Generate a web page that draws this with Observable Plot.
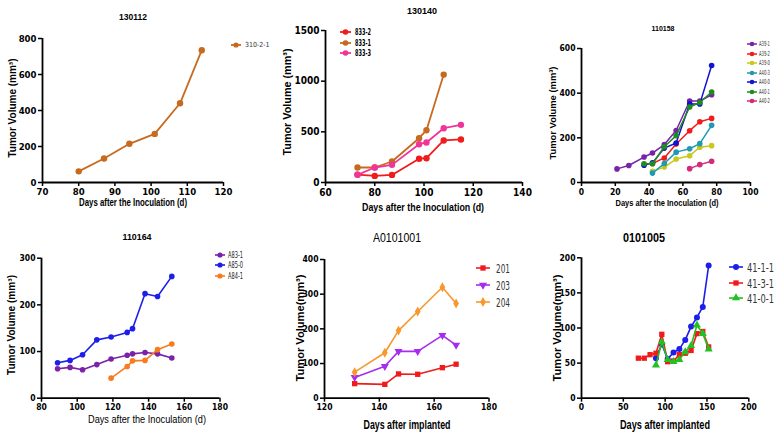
<!DOCTYPE html>
<html><head><meta charset="utf-8">
<script src="https://cdn.jsdelivr.net/npm/d3@7"></script>
<script src="https://cdn.jsdelivr.net/npm/@observablehq/plot@0.6"></script>
<style>
body{margin:0;background:#fff;}
#root{position:relative;width:783px;height:433px;overflow:hidden;background:#fff;}
.t{position:absolute;white-space:nowrap;line-height:1;color:#000;}
svg.sw{position:absolute;overflow:visible;}
</style></head><body><div id="root"></div>
<script>
// ---------- DATA ----------
// Panel 130112
const days130112 = [80, 87, 94, 101, 108, 114];
const vol310_2_1 = [62, 133, 215, 270, 440, 735];
// Panel 130140
const days130140 = [73, 80, 87, 98, 101, 108, 115];
const vol833_2 = [78, 65, 75, 235, 240, 415, 425];
const vol833_1 = [148, 148, 207, 437, 516, 1065];
const vol833_3 = [76, 148, 174, 378, 395, 536, 569];
// Panel 110158
const daysA39_1 = [21, 28, 37, 42, 49, 56, 64, 70, 77];
const volA39_1 = [61, 76, 114, 132, 170, 233, 365, 365, 393];
const daysA39_2 = [42, 49, 56, 64, 70, 77];
const volA39_2 = [85, 110, 172, 232, 272, 287];
const volA39_0 = [50, 69, 105, 120, 158, 165];
const volA40_3 = [42, 85, 136, 151, 174, 256];
const daysA40_0 = [37, 42, 49, 56, 64, 70, 77];
const volA40_0 = [77, 88, 154, 177, 352, 352, 524];
const volA40_1 = [84, 84, 160, 210, 338, 358, 405];
const daysA40_2 = [64, 70, 77];
const volA40_2 = [62, 80, 95];
// Panel 110164
const days110164 = [89, 96, 103, 111, 119, 128, 131, 138, 145, 153];
const volA83_1 = [63, 66, 61, 72, 84, 92, 95, 98, 95, 86];
const volA85_0 = [76, 81, 93, 125, 131, 141, 149, 224, 218, 261];
const daysA84_1 = [119, 128, 131, 138, 145, 153];
const volA84_1 = [43, 68, 80, 81, 104, 116];
// Panel A0101001
const daysA0101001 = [131, 142, 147, 154, 163, 168];
const vol201 = [42, 40, 70, 69, 88, 98];
const vol203 = [60, 92, 135, 135, 181, 153];
const vol204 = [75, 131, 195, 250, 320, 273];
// Panel 0101005
const days41_3_1 = [68, 75, 82, 89, 96, 103, 110, 117, 124, 131, 138, 145, 152];
const vol41_3_1 = [57, 57, 62, 64, 91, 52, 53, 62, 64, 68, 92, 95, 73];
const days41_x = [89, 96, 103, 110, 117, 124, 131, 138, 145, 152];
const vol41_1_1 = [57, 77, 56, 65, 70, 83, 102, 115, 130, 189];
const vol41_0_1 = [47, 80, 55, 52, 55, 66, 75, 104, 92, 70];

// tick values
const ticks1x = [70, 80, 90, 100, 110, 120], ticks1y = [0, 200, 400, 600, 800];
const ticks2x = [60, 80, 100, 120, 140], ticks2y = [0, 500, 1000, 1500];
const ticks3x = [0, 20, 40, 60, 80, 100], ticks3y = [0, 200, 400, 600];
const ticks4x = [80, 100, 120, 140, 160, 180], ticks4y = [0, 100, 200, 300];
const ticks5x = [120, 140, 160, 180], ticks5y = [0, 100, 200, 300, 400];
const ticks6x = [0, 50, 100, 150, 200], ticks6y = [0, 50, 100, 150, 200];

// ---------- RENDERING ----------
const SANS = '"Liberation Sans", Arial, sans-serif';
const NARROW = '"Liberation Sans Narrow", "Arial Narrow", "DejaVu Sans Condensed", "Liberation Sans", sans-serif';
const root = document.getElementById('root');

const triangleDown = {draw(ctx, size) {
  const s3 = Math.sqrt(3), y = -Math.sqrt(size / (s3 * 3));
  ctx.moveTo(0, -y * 2); ctx.lineTo(-s3 * y, y); ctx.lineTo(s3 * y, y); ctx.closePath();
}};
const SYM = {circle: d3.symbolCircle, square: d3.symbolSquare, triangle: d3.symbolTriangle, diamond: d3.symbolDiamond, triangleDown};

function addText(str, x, y, o) {
  const el = document.createElement('div');
  el.className = 't';
  el.textContent = str;
  el.style.fontFamily = o.family || SANS;
  el.style.fontSize = o.size + 'px';
  el.style.fontWeight = o.weight || 'normal';
  if (o.color) el.style.color = o.color;
  root.appendChild(el);
  const w = el.getBoundingClientRect().width;
  const sx = o.width ? o.width / w : 1;
  el.style.left = x + 'px'; el.style.top = y + 'px';
  if (o.anchor === 'start') {
    el.style.transformOrigin = '0 50%';
    el.style.transform = `translate(0,-50%) scaleX(${sx})`;
  } else {
    el.style.transform = `translate(-50%,-50%) ${o.rotate ? 'rotate(-90deg) ' : ''}scaleX(${sx})`;
  }
}

function swatch(s, cx, cy, half, r, lw) {
  const ns = 'http://www.w3.org/2000/svg';
  const svg = document.createElementNS(ns, 'svg');
  svg.setAttribute('class', 'sw');
  svg.setAttribute('width', 2 * half); svg.setAttribute('height', 12);
  svg.style.left = (cx - half) + 'px'; svg.style.top = (cy - 6) + 'px';
  const line = document.createElementNS(ns, 'line');
  line.setAttribute('x1', 0); line.setAttribute('x2', 2 * half);
  line.setAttribute('y1', 6); line.setAttribute('y2', 6);
  line.setAttribute('stroke', s.color); line.setAttribute('stroke-width', lw);
  svg.appendChild(line);
  const p = document.createElementNS(ns, 'path');
  p.setAttribute('d', d3.symbol(SYM[s.symbol], Math.PI * r * r)());
  p.setAttribute('transform', `translate(${half},6)`);
  p.setAttribute('fill', s.color);
  svg.appendChild(p);
  root.appendChild(svg);
}

function panel(c) {
  const [bl, bt, bw, bh] = c.box;
  const [fl, fr, ft, fb] = c.frame;
  const marks = [];
  for (const s of c.series) {
    const data = s.days.map((d, i) => ({day: d, vol: s.vol[i]}));
    marks.push(Plot.line(data, {x: "day", y: "vol", stroke: s.color, strokeWidth: c.lw}));
    marks.push(Plot.dot(data, {x: "day", y: "vol", fill: s.color, symbol: SYM[s.symbol], r: c.r}));
  }
  marks.push(Plot.ruleX([c.xDomain[0]], {stroke: "#000", strokeWidth: 1.8}));
  marks.push(Plot.ruleY([c.yDomain[0]], {stroke: "#000", strokeWidth: 1.8}));
  marks.push(Plot.axisX({ticks: c.xTicks, tickSize: 4, tickPadding: 2, tickFormat: d => String(d), label: null, strokeWidth: 1.5}));
  marks.push(Plot.axisY({ticks: c.yTicks, tickSize: 4, tickPadding: 2, tickFormat: d => String(d), label: null, strokeWidth: 1.5}));
  const svg = Plot.plot({
    width: bw, height: bh,
    marginLeft: fl - bl, marginRight: bl + bw - fr, marginTop: ft - bt, marginBottom: bt + bh - fb,
    x: {domain: c.xDomain}, y: {domain: c.yDomain},
    style: {fontFamily: NARROW, fontSize: c.tickSize + "px", fontWeight: "bold", color: "#000", background: "transparent", overflow: "visible"},
    marks
  });
  svg.style.position = 'absolute'; svg.style.left = bl + 'px'; svg.style.top = bt + 'px';
  root.appendChild(svg);
  // title and axis titles
  addText(c.title[0], c.title[1], c.title[2], c.title[3]);
  addText(c.xLabel[0], c.xLabel[1], c.xLabel[2], c.xLabel[3]);
  addText(c.yLabel[0], c.yLabel[1], c.yLabel[2], Object.assign({rotate: true}, c.yLabel[3]));
  // legend
  const L = c.legend;
  c.series.forEach((s, i) => {
    const y = L.y0 + i * L.dy;
    swatch(s, L.x, y, L.half, L.r, c.lw);
    addText(s.name, L.tx, y, {size: L.size, weight: L.weight, family: L.family || NARROW, anchor: 'start', color: L.color, width: L.widths ? L.widths[i] : undefined});
  });
}

const C = {brown: "#c86a1e", red: "#f01c1c", pink: "#f0359a", purple: "#7a22a8", yellow: "#c8c81e", teal: "#1e9ab4", blue: "#1212d2", green: "#1e8c1e", magenta: "#d22a7c", blue2: "#1e1eea", orange: "#f77c1e", violet: "#a52cf0", orange2: "#f8982c", green2: "#22c022"};

const yTitle = "Tumor Volume (mm³)";
const xTitle = "Days after the Inoculation (d)";

panel({
  box: [0, 0, 260, 215], frame: [42, 223, 38, 182],
  xDomain: [70, 120], yDomain: [0, 800], xTicks: ticks1x, yTicks: ticks1y, tickSize: 9.5, lw: 1.8, r: 3.2,
  series: [{name: "310-2-1", days: days130112, vol: vol310_2_1, color: C.brown, symbol: "circle"}],
  title: ["130112", 133, 17, {size: 9, weight: "bold", width: 28}],
  xLabel: [xTitle, 133, 203, {size: 10, weight: "bold", width: 108}],
  yLabel: [yTitle, 13, 108, {size: 10, weight: "bold", width: 99}],
  legend: {x: 236, y0: 45, dy: 10, half: 5, r: 2.6, tx: 245, size: 7, color: "#333"}
});

panel({
  box: [260, 0, 260, 215], frame: [325, 522, 30, 182],
  xDomain: [60, 140], yDomain: [0, 1500], xTicks: ticks2x, yTicks: ticks2y, tickSize: 10, lw: 1.8, r: 3.2,
  series: [
    {name: "833-2", days: days130140, vol: vol833_2, color: C.red, symbol: "circle"},
    {name: "833-1", days: days130140.slice(0, 6), vol: vol833_1, color: C.brown, symbol: "circle"},
    {name: "833-3", days: days130140, vol: vol833_3, color: C.pink, symbol: "circle"}
  ],
  title: ["130140", 422, 11, {size: 9, weight: "bold", width: 30}],
  xLabel: [xTitle, 423, 207, {size: 10.5, weight: "bold", width: 122}],
  yLabel: [yTitle, 287, 102, {size: 10.5, weight: "bold", width: 107}],
  legend: {x: 345, y0: 32, dy: 10.5, half: 5.5, r: 2.8, tx: 355, size: 9, weight: "bold", widths: [16, 16, 16]}
});

panel({
  box: [520, 0, 263, 215], frame: [581, 750, 48, 182],
  xDomain: [0, 100], yDomain: [0, 600], xTicks: ticks3x, yTicks: ticks3y, tickSize: 8.5, lw: 1.5, r: 2.8,
  series: [
    {name: "A39-1", days: daysA39_1, vol: volA39_1, color: C.purple, symbol: "circle"},
    {name: "A39-2", days: daysA39_2, vol: volA39_2, color: C.red, symbol: "circle"},
    {name: "A39-0", days: daysA39_2, vol: volA39_0, color: C.yellow, symbol: "circle"},
    {name: "A40-3", days: daysA39_2, vol: volA40_3, color: C.teal, symbol: "circle"},
    {name: "A40-0", days: daysA40_0, vol: volA40_0, color: C.blue, symbol: "circle"},
    {name: "A40-1", days: daysA40_0, vol: volA40_1, color: C.green, symbol: "circle"},
    {name: "A40-2", days: daysA40_2, vol: volA40_2, color: C.magenta, symbol: "circle"}
  ],
  title: ["110158", 663, 29, {size: 8, weight: "bold", width: 23}],
  xLabel: [xTitle, 667, 203, {size: 9.5, weight: "bold", width: 103}],
  yLabel: [yTitle, 553, 113, {size: 9, weight: "bold", width: 93}],
  legend: {x: 752, y0: 44, dy: 9.5, half: 5, r: 2.3, tx: 759, size: 7, color: "#333", widths: [11, 11, 11, 11, 11, 11, 11]}
});

panel({
  box: [0, 215, 260, 218], frame: [41, 219.5, 257.7, 397.7],
  xDomain: [80, 180], yDomain: [0, 300], xTicks: ticks4x, yTicks: ticks4y, tickSize: 8.5, lw: 1.6, r: 2.8,
  series: [
    {name: "A83-1", days: days110164, vol: volA83_1, color: C.purple, symbol: "circle"},
    {name: "A85-0", days: days110164, vol: volA85_0, color: C.blue2, symbol: "circle"},
    {name: "A84-1", days: daysA84_1, vol: volA84_1, color: C.orange, symbol: "circle"}
  ],
  title: ["110164", 137, 237, {size: 8.5, weight: "bold", width: 29}],
  xLabel: [xTitle, 147, 420, {size: 10, weight: "normal", width: 118}],
  yLabel: [yTitle, 12, 325, {size: 10, weight: "bold", width: 100}],
  legend: {x: 220, y0: 254.5, dy: 10.8, half: 5, r: 2.6, tx: 228, size: 8.5, color: "#222", widths: [15, 15, 15]}
});

panel({
  box: [260, 215, 260, 218], frame: [324, 488.5, 259, 397.7],
  xDomain: [120, 180], yDomain: [0, 400], xTicks: ticks5x, yTicks: ticks5y, tickSize: 8.5, lw: 1.6, r: 3,
  series: [
    {name: "201", days: daysA0101001, vol: vol201, color: C.red, symbol: "square"},
    {name: "203", days: daysA0101001, vol: vol203, color: C.violet, symbol: "triangleDown"},
    {name: "204", days: daysA0101001, vol: vol204, color: C.orange2, symbol: "diamond"}
  ],
  title: ["A0101001", 397, 238, {size: 12, weight: "normal", width: 48}],
  xLabel: ["Days after implanted", 407, 425, {size: 12, weight: "bold", width: 87}],
  yLabel: ["Tumor Volume(mm³)", 300, 328, {size: 11, weight: "bold", width: 107}],
  legend: {x: 483, y0: 268, dy: 17, half: 7, r: 3, tx: 496, size: 13, color: "#333", widths: [14, 14, 14]}
});

panel({
  box: [520, 215, 263, 218], frame: [581, 748.3, 257.3, 397.7],
  xDomain: [0, 200], yDomain: [0, 200], xTicks: ticks6x, yTicks: ticks6y, tickSize: 8.5, lw: 1.6, r: 3,
  series: [
    {name: "41-1-1", days: days41_x, vol: vol41_1_1, color: C.blue2, symbol: "circle"},
    {name: "41-3-1", days: days41_3_1, vol: vol41_3_1, color: C.red, symbol: "square"},
    {name: "41-0-1", days: days41_x, vol: vol41_0_1, color: C.green2, symbol: "triangle"}
  ],
  title: ["0101005", 644, 237, {size: 13, weight: "bold", width: 42}],
  xLabel: ["Days after implanted", 665, 425, {size: 12, weight: "bold", width: 90}],
  yLabel: ["Tumor Volume(mm³)", 557, 328, {size: 11, weight: "bold", width: 107}],
  legend: {x: 736, y0: 267, dy: 15.7, half: 7, r: 3, tx: 747, size: 13, color: "#333", widths: [27, 27, 27]}
});
</script></body></html>
